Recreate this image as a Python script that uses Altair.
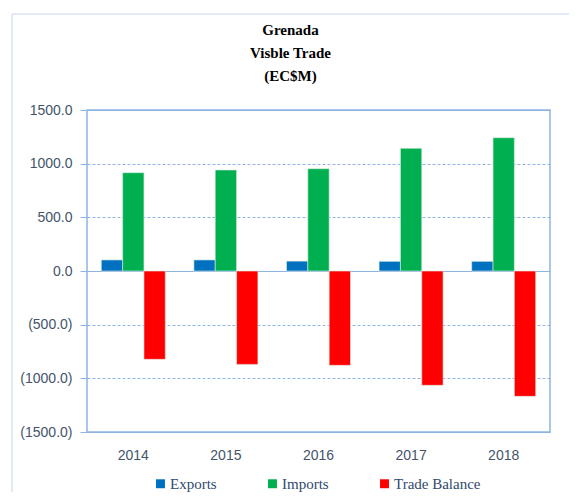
import altair as alt
import pandas as pd

years = ["2014", "2015", "2016", "2017", "2018"]
exports = [103, 103, 92, 90, 90]
imports = [916, 941, 953, 1143, 1242]
balance = [-823, -870, -879, -1065, -1168]
series = ["Exports", "Imports", "Trade Balance"]
colors = ["#0070C0", "#00B050", "#FF0000"]
y_ticks = [-1500, -1000, -500, 0, 500, 1000, 1500]

rows = []
for i, yr in enumerate(years):
    for s, vals in zip(series, [exports, imports, balance]):
        rows.append({"Year": yr, "Series": s, "Value": vals[i]})
df = pd.DataFrame(rows)

frame = alt.Chart(pd.DataFrame({"a": [0]})).mark_rect(
    fillOpacity=0, stroke="#C6D6EC", strokeWidth=1
).encode(
    x=alt.value(-75), x2=alt.value(620), y=alt.value(-96), y2=alt.value(520)
)

label_expr = ("datum.value < 0 ? '(' + format(-datum.value, '.1f') + ')' "
              ": format(datum.value, '.1f') + ' '")

bars = alt.Chart(df).mark_bar(stroke="#DDEFE3", strokeWidth=0.6).encode(
    x=alt.X("Year:N", sort=years,
            scale=alt.Scale(paddingInner=0, paddingOuter=0),
            axis=alt.Axis(title=None, labelAngle=0, ticks=False, domain=False,
                          grid=False, labelPadding=16,
                          labelFont="Liberation Sans", labelFontSize=14,
                          labelColor="#44546A")),
    xOffset=alt.XOffset("Series:N", sort=series,
                        scale=alt.Scale(paddingOuter=0.67, paddingInner=0)),
    y=alt.Y("Value:Q",
            scale=alt.Scale(domain=[-1500, 1500], nice=False),
            axis=alt.Axis(title=None, values=y_ticks, labelExpr=label_expr,
                          grid=True,
                          gridDash={"condition": {"test": "datum.value === 0 || abs(datum.value) === 1500", "value": []}, "value": [3, 2]},
                          gridColor="#8EB4E3", gridWidth=1,
                          domain=False, tickColor="#8EB4E3", tickSize=7,
                          labelPadding=8, labelFont="Liberation Sans",
                          labelFontSize=14, labelColor="#44546A")),
    color=alt.Color("Series:N", sort=series,
                    scale=alt.Scale(domain=series, range=colors),
                    legend=alt.Legend(title=None, orient="none", direction="horizontal",
                                      legendX=66, legendY=366,
                                      symbolType="square", symbolSize=80,
                                      symbolStrokeWidth=0,
                                      labelFont="Liberation Serif", labelFontSize=15,
                                      labelColor="#2F4A6E", labelOffset=2,
                                      columnPadding=48)),
)

chart = alt.layer(frame, bars).properties(
    width=463, height=322,
    autosize=alt.AutoSizeParams(type="none"),
    padding={"left": 79, "top": 102, "right": 19, "bottom": 60},
    title=alt.TitleParams(text=["Grenada", "Visble Trade", "(EC$M)"],
                          font="Liberation Serif", fontSize=15, fontWeight="bold",
                          color="black", lineHeight=23, anchor="middle",
                          frame="group", dx=-28, dy=94, offset=24),
).configure_view(stroke="#8EB4E3", strokeWidth=1.5)

chart.save("out.html", embed_options={"renderer": "svg", "actions": False})
